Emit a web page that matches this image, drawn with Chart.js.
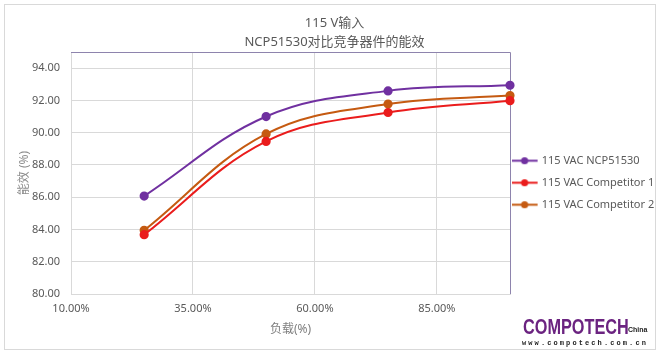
<!DOCTYPE html>
<html>
<head>
<meta charset="utf-8">
<script src="https://cdn.jsdelivr.net/npm/chart.js@4.4.1/dist/chart.umd.min.js"></script>
<style>
  html, body { margin: 0; padding: 0; background: #fff; }
  #wrap { position: relative; width: 661px; height: 354px; overflow: hidden; }
  #frame { position: absolute; left: 4px; top: 4px; width: 650px; height: 344px; border: 1px solid #d9d9d9; pointer-events: none; }
  .logo { position: absolute; white-space: nowrap; line-height: 1; }
  #logoMain { left: 523px; top: 314px; font: bold 22px "Liberation Sans", sans-serif; color: #6b2380; transform: scaleX(0.74); transform-origin: left top; }
  #logoChina { left: 628px; top: 326px; font: bold 7px "Liberation Sans", sans-serif; color: #222; }
  #logoUrl { left: 522px; top: 339px; font: bold 7px "Liberation Mono", monospace; letter-spacing: 2.1px; color: #222; }
</style>
</head>
<body>
<div id="wrap">
  <canvas id="chart" width="661" height="354"></canvas>
  <div id="frame"></div>
  <div class="logo" id="logoMain">COMPOTECH</div>
  <div class="logo" id="logoChina">China</div>
  <div class="logo" id="logoUrl">www.compotech.com.cn</div>
</div>
<script>
// chart data
const loads = [25, 50, 75, 100];
const ncp51530 = [86.07, 91.0, 92.59, 92.94];
const competitor1 = [83.68, 89.46, 91.25, 91.98];
const competitor2 = [83.95, 89.92, 91.77, 92.30];
const seriesNames = ['115 VAC NCP51530', '115 VAC Competitor 1', '115 VAC Competitor 2'];
const seriesColors = ['#7030a0', '#ea1c1c', '#c55a11'];
const xTicks = [10, 35, 60, 85];
const yTicks = [80, 82, 84, 86, 88, 90, 92, 94];
const titleLines = ['115 V输入', 'NCP51530对比竞争器件的能效'];

const textGray = '#595959';
const gridGray = '#d9d9d9';
const frameLine = '#8e84ad';
const font = '"Noto Sans", "Noto Sans CJK SC", sans-serif';

// small line-with-dot image for the legend, like Excel's
function legendIcon(color) {
    const c = document.createElement('canvas');
    c.width = 34;
    c.height = 9;
    const g = c.getContext('2d');
    g.strokeStyle = color;
    g.lineWidth = 2;
    g.beginPath();
    g.moveTo(0, 4.5);
    g.lineTo(26, 4.5);
    g.stroke();
    g.fillStyle = color;
    g.beginPath();
    g.arc(13, 4.5, 3.6, 0, Math.PI * 2);
    g.fill();
    return c;
}

const seriesValues = [ncp51530, competitor1, competitor2];
const datasets = seriesValues.map((vals, i) => ({
    label: seriesNames[i],
    data: loads.map((x, j) => ({ x: x, y: vals[j] })),
    borderColor: seriesColors[i],
    backgroundColor: seriesColors[i],
    borderWidth: 2,
    pointRadius: 3.6,
    pointHoverRadius: 3.6,
    tension: 0.38,
    clip: false
}));

// top and right edge of the plot area
const plotFrame = {
    id: 'plotFrame',
    beforeDatasetsDraw(chart) {
        const { ctx, chartArea: a } = chart;
        ctx.save();
        ctx.strokeStyle = frameLine;
        ctx.lineWidth = 1;
        ctx.beginPath();
        ctx.moveTo(a.left, a.top + 0.5);
        ctx.lineTo(a.right + 0.5, a.top + 0.5);
        ctx.lineTo(a.right + 0.5, a.bottom);
        ctx.stroke();
        ctx.restore();
    }
};

new Chart(document.getElementById('chart'), {
    type: 'line',
    data: { datasets: datasets },
    plugins: [plotFrame],
    options: {
        responsive: false,
        animation: false,
        layout: { padding: { left: 8, top: 0, right: 0, bottom: 0 } },
        plugins: {
            title: {
                display: true,
                text: titleLines,
                color: textGray,
                font: { family: font, size: 13, weight: 'normal', lineHeight: '19px' },
                padding: { top: 14, bottom: 0 }
            },
            legend: {
                position: 'right',
                maxWidth: 151,
                title: { display: true, text: ' ', font: { size: 9.5, lineHeight: 1.2 }, padding: 0 },
                labels: {
                    usePointStyle: true,
                    pointStyleWidth: 15.2,
                    padding: 11,
                    color: textGray,
                    font: { family: font, size: 11 },
                    generateLabels: chart => chart.data.datasets.map((ds, i) => ({
                        text: ds.label,
                        pointStyle: legendIcon(ds.borderColor),
                        fillStyle: ds.borderColor,
                        strokeStyle: ds.borderColor,
                        fontColor: textGray,
                        lineWidth: 0,
                        hidden: false,
                        datasetIndex: i
                    }))
                }
            },
            tooltip: { enabled: false }
        },
        scales: {
            x: {
                type: 'linear',
                min: 10,
                max: 100,
                afterBuildTicks: scale => { scale.ticks = xTicks.map(v => ({ value: v })); },
                afterFit: scale => { scale.height = 60; },
                grid: { color: gridGray, drawTicks: false },
                border: { color: gridGray },
                ticks: {
                    color: textGray,
                    font: { family: font, size: 11 },
                    padding: 8,
                    maxRotation: 0,
                    callback: v => v.toFixed(2) + '%'
                },
                title: {
                    display: true,
                    text: '负载(%)',
                    color: '#7f7f7f',
                    font: { family: font, size: 12, lineHeight: 1.2 },
                    padding: { top: 0, bottom: 17 }
                }
            },
            y: {
                min: 80,
                max: 95,
                afterBuildTicks: scale => { scale.ticks = yTicks.map(v => ({ value: v })); },
                afterFit: scale => { scale.width = 63; },
                grid: { color: gridGray, drawTicks: false },
                border: { color: gridGray },
                ticks: {
                    color: textGray,
                    font: { family: font, size: 11 },
                    padding: 11,
                    callback: v => v.toFixed(2)
                },
                title: {
                    display: true,
                    text: '能效 (%)',
                    color: '#8c8c8c',
                    font: { family: font, size: 12, lineHeight: 1.2 },
                    padding: { top: 9, bottom: 0 }
                }
            }
        }
    }
});
</script>
</body>
</html>
